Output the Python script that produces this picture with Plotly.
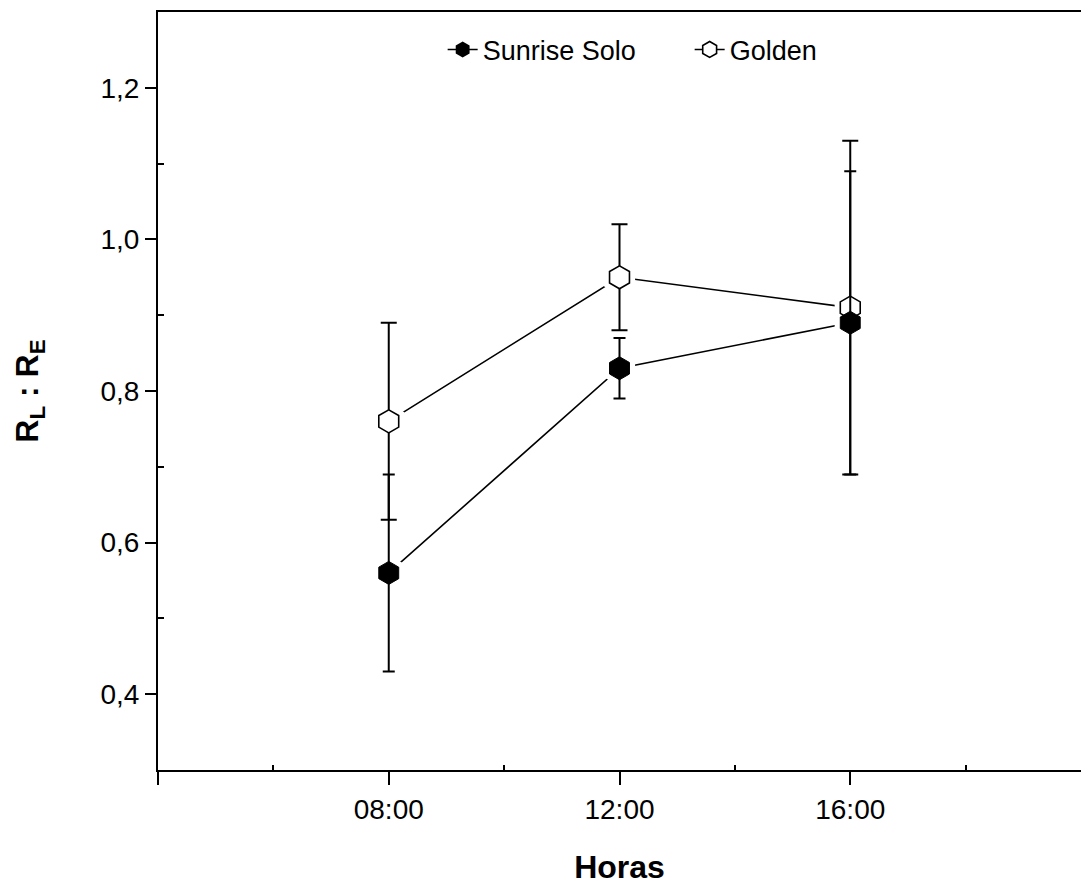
import plotly.graph_objects as go

# Sampling times (hours) and their labels
hours = [8, 12, 16]
hour_labels = ["08:00", "12:00", "16:00"]

# R_L : R_E ratio, mean and error for each cultivar
sunrise_mean = [0.56, 0.83, 0.89]
sunrise_err = [0.13, 0.04, 0.20]
golden_mean = [0.76, 0.95, 0.91]
golden_err = [0.13, 0.07, 0.22]

y_major = [0.4, 0.6, 0.8, 1.0, 1.2]
y_minor = [0.5, 0.7, 0.9, 1.1]
x_major = [4] + hours
x_minor = [6, 10, 14, 18]

FONT = "Arial, Liberation Sans, sans-serif"
BLACK = "#000000"

fig = go.Figure()

# connecting lines
for ys in (sunrise_mean, golden_mean):
    fig.add_trace(go.Scatter(x=hours, y=ys, mode="lines",
                             line=dict(color=BLACK, width=1.6),
                             showlegend=False, hoverinfo="skip"))

# white halos so the lines stop short of the symbols
for ys in (sunrise_mean, golden_mean):
    fig.add_trace(go.Scatter(x=hours, y=ys, mode="markers",
                             marker=dict(symbol="hexagon", size=36, color="white",
                                         line=dict(width=0)),
                             showlegend=False, hoverinfo="skip"))

# symbols with error bars
fig.add_trace(go.Scatter(
    x=hours, y=golden_mean, mode="markers", showlegend=False,
    marker=dict(symbol="hexagon", size=23, color="white",
                line=dict(color=BLACK, width=1.6)),
    error_y=dict(type="data", array=golden_err, symmetric=True,
                 color=BLACK, thickness=2, width=8)))
fig.add_trace(go.Scatter(
    x=hours, y=sunrise_mean, mode="markers", showlegend=False,
    marker=dict(symbol="hexagon", size=23, color=BLACK,
                line=dict(color=BLACK, width=1)),
    error_y=dict(type="data", array=sunrise_err, symmetric=True,
                 color=BLACK, thickness=2, width=6)))

# legend entries
fig.add_trace(go.Scatter(x=[None], y=[None], mode="lines+markers", name="Sunrise Solo",
                         line=dict(color=BLACK, width=1.6),
                         marker=dict(symbol="hexagon", size=20, color=BLACK)))
fig.add_trace(go.Scatter(x=[None], y=[None], mode="lines+markers", name="Golden",
                         line=dict(color=BLACK, width=1.6),
                         marker=dict(symbol="hexagon", size=20, color="white",
                                     line=dict(color=BLACK, width=1.6))))

fig.update_layout(
    width=1081, height=885,
    margin=dict(l=158, r=0, t=12, b=115),
    paper_bgcolor="white", plot_bgcolor="white",
    font=dict(family=FONT, color=BLACK, size=28),
    separators=", ",
    showlegend=True,
    legend=dict(orientation="h", x=0.3084, xanchor="left", y=0.95, yanchor="middle",
                font=dict(size=27, family=FONT), bgcolor="rgba(0,0,0,0)",
                itemsizing="trace", entrywidth=202, tracegroupgap=0),
)

fig.update_xaxes(
    range=[4, 20], tickvals=x_major,
    ticktext=[""] + hour_labels,
    ticks="outside", ticklen=13, tickwidth=2, tickcolor=BLACK,
    showline=True, linewidth=2, linecolor=BLACK, mirror=True,
    showgrid=False, zeroline=False,
    tickfont=dict(size=28, family=FONT),
    minor=dict(tickvals=x_minor, ticks="inside", ticklen=5, tickwidth=1.5,
               tickcolor=BLACK, showgrid=False),
    title=dict(text="<b>Horas</b>", font=dict(size=32, family=FONT), standoff=36),
)
fig.update_yaxes(
    range=[0.3, 1.3], tickvals=y_major, tickformat=".1f",
    ticks="outside", ticklen=11, tickwidth=2, tickcolor=BLACK,
    showline=True, linewidth=2, linecolor=BLACK, mirror=False,
    showgrid=False, zeroline=False,
    tickfont=dict(size=28, family=FONT),
    minor=dict(tickvals=y_minor, ticks="inside", ticklen=6, tickwidth=2,
               tickcolor=BLACK, showgrid=False),
    title=dict(text="<b>R<sub>L</sub> : R<sub>E</sub></b>",
               font=dict(size=32, family=FONT), standoff=52),
)

fig.write_html("out.html")
